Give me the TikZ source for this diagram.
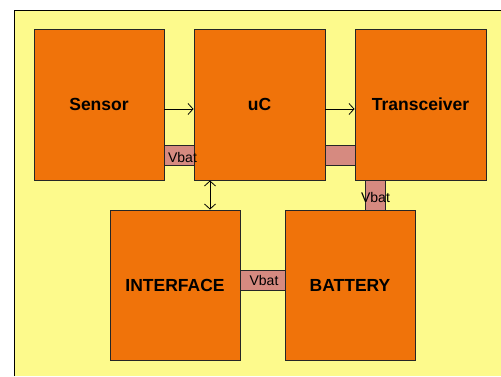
\documentclass[tikz,border=0pt]{standalone}
\usepackage{fontspec}
\setmainfont{Liberation Sans}
\usetikzlibrary{arrows.meta}
\definecolor{bgyellow}{HTML}{FDFA8C}
\definecolor{boxorange}{HTML}{F0730A}
\definecolor{strippink}{HTML}{D68A80}
\tikzset{
  block/.style={draw=black!85, line width=0.9pt, fill=boxorange, inner sep=0pt,
    minimum width=130pt, minimum height=151pt,
    font=\fontsize{17.5}{20}\selectfont\bfseries},
  strip/.style={draw=black!85, line width=0.9pt, fill=strippink, inner sep=0pt},
  vlabel/.style={inner sep=0pt, font=\fontsize{14}{16}\selectfont},
  conn/.style={line width=0.8pt, black, arrows={-Straight Barb[length=5pt,width=11pt]}},
  biconn/.style={line width=0.8pt, black, arrows={Straight Barb[length=5pt,width=11pt]-Straight Barb[length=5pt,width=11pt]}}
}
\begin{document}
\begin{tikzpicture}[x=1pt,y=-1pt]
\useasboundingbox (0,0) rectangle (501,376);
\fill[white] (0,0) rectangle (501,376);
\fill[bgyellow] (14,10) rectangle (501,376);
\draw[line width=1pt, black] (14,376) -- (14,10) -- (501,10);
% strips (behind boxes)
\node[strip, minimum width=31pt, minimum height=20pt] (s1) at (179,155) {};
\node[strip, minimum width=31pt, minimum height=20pt] (s2) at (340,155) {};
\node[strip, minimum width=20pt, minimum height=31pt] (s3) at (375,195) {};
\node[strip, minimum width=46pt, minimum height=20pt] (s4) at (262.5,280) {};
% blocks
\node[block] (sensor) at (99,104.5) {Sensor};
\node[block, minimum width=131pt] (uc) at (259.5,104.5) {uC};
\node[block, minimum width=131pt] (trx) at (420.5,104.5) {Transceiver};
\node[block, minimum height=150pt] (iface) at (175,285) {INTERFACE};
\node[block, minimum height=150pt] (batt) at (350,285) {BATTERY};
% labels
\node[vlabel] (l1) at (182.5,157) {Vbat};
\node[vlabel] (l3) at (375.5,197) {Vbat};
\node[vlabel] (l4) at (264,280) {Vbat};
% connectors
\draw[conn] ([yshift=-4.5pt]sensor.east) -- ([yshift=-4.5pt]uc.west);
\draw[conn] ([yshift=-4.5pt]uc.east) -- ([yshift=-4.5pt]trx.west);
\draw[biconn] ([xshift=-49.5pt]uc.south) -- ([xshift=35pt]iface.north);
\end{tikzpicture}
\end{document}
